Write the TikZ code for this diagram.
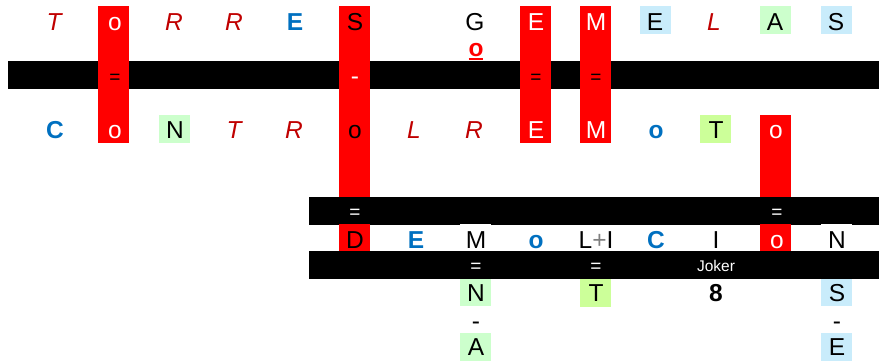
\documentclass[tikz,border=0pt]{standalone}
\usepackage{fontspec}
\setmainfont{Liberation Sans}
\definecolor{dred}{HTML}{C00000}
\definecolor{mblue}{HTML}{0070C0}
\definecolor{lgreen}{HTML}{CCFFCC}
\definecolor{lime}{HTML}{CCFF99}
\definecolor{lblue}{HTML}{C9ECFB}
\newcommand{\band}[6]{\node[bandbox,fill=#6,minimum width=#4pt-#2pt,minimum height=#5pt-#3pt] (#1) at (#2,#3) {};}
\newcommand{\ltr}[5][]{\node[lettr,#1] (#2) at (#3,#4) {#5};}
\newcommand{\bigf}{\fontsize{24.5}{26}\selectfont}
\tikzset{
 bandbox/.style={anchor=north west,inner sep=0pt,outer sep=0pt,draw=none},
 lettr/.style={anchor=base,inner sep=0pt,outer sep=0pt,font=\bigf,text=black},
 ital/.style={text=dred,font=\bigf\itshape},
 bluebold/.style={text=mblue,font=\bigf\bfseries},
 onred/.style={text=white},
 sym/.style={font=\fontsize{19}{21}\selectfont},
}
\begin{document}
\begin{tikzpicture}[x=1pt,y=-1pt]
\useasboundingbox (0,0) rectangle (879,362);
% black bars
\band{barA}{8}{61}{879}{89}{black}
\band{barB}{309}{197}{879}{225}{black}
\band{barC}{309}{251}{879}{279}{black}
% red columns
\band{colO}{98}{6}{129}{143}{red}
\band{colS}{339}{6}{370}{197}{red}
\band{colE}{520}{6}{551}{143}{red}
\band{colM}{580}{6}{611}{143}{red}
\band{colT}{760}{115}{791}{197}{red}
\band{cellD}{339}{224}{370}{251}{red}
\band{cellO}{760}{224}{791}{251}{red}
% tinted cells
\band{cellE}{640}{6}{671}{34}{lblue}
\band{cellA}{760}{6}{791}{34}{lgreen}
\band{cellS}{821}{6}{852}{34}{lblue}
\band{cellN}{159}{115}{190}{143}{lgreen}
\band{cellT}{700}{115}{731}{143}{lime}
\band{cellM}{460}{224}{491}{251}{white}
\band{cellNn}{821}{224}{852}{251}{white}
\band{cellN2}{460}{279}{491}{306}{lgreen}
\band{cellT2}{580}{279}{611}{307}{lime}
\band{cellA2}{460}{333}{491}{361}{lgreen}
\band{cellS2}{821}{279}{852}{306}{lblue}
\band{cellE2}{821}{333}{852}{361}{lblue}
% row 1
\ltr[ital]{a1}{54}{30}{T}
\ltr[onred]{a2}{115}{30}{o}
\ltr[ital]{a3}{174}{30}{R}
\ltr[ital]{a4}{234}{30}{R}
\ltr[bluebold]{a5}{295}{30}{E}
\ltr{a6}{355}{30}{S}
\ltr{a7}{475}{30}{G}
\ltr[onred]{a8}{536}{30}{E}
\ltr[onred]{a9}{596}{30}{M}
\ltr{a10}{655}{30}{E}
\ltr[ital]{a11}{714}{30}{L}
\ltr{a12}{775}{30}{A}
\ltr{a13}{836}{30}{S}
\node[lettr,text=red,font=\bigf\bfseries] (joker1) at (476,56) {o};
\draw[red,line width=1.6pt] (joker1.base west |- 0,59) -- (joker1.base east |- 0,59);
% symbols in first bar
\ltr[sym]{s1}{115}{83}{=}
\ltr[text=white]{s2}{355}{84}{-}
\ltr[sym]{s3}{536}{83}{=}
\ltr[sym]{s4}{596}{83}{=}
% row 2
\ltr[bluebold]{b1}{55}{138}{C}
\ltr[onred]{b2}{115}{138}{o}
\ltr{b3}{175}{138}{N}
\ltr[ital]{b4}{234}{138}{T}
\ltr[ital]{b5}{294}{138}{R}
\ltr{b6}{355}{138}{o}
\ltr[ital]{b7}{414}{138}{L}
\ltr[ital]{b8}{474}{138}{R}
\ltr[onred]{b9}{536}{138}{E}
\ltr[onred]{b10}{596}{138}{M}
\ltr[bluebold]{b11}{656}{138}{o}
\ltr{b12}{716}{138}{T}
\ltr[onred]{b13}{776}{138}{o}
% second bar symbols
\ltr[sym,text=white]{s5}{355}{218}{=}
\ltr[sym,text=white]{s6}{777}{218}{=}
% row 3
\ltr{c1}{355}{248}{D}
\ltr[bluebold]{c2}{416}{248}{E}
\ltr{c3}{476}{248}{M}
\ltr[bluebold]{c4}{536}{248}{o}
\node[lettr] (c5) at (596,248) {L\textcolor{gray}{+}I};
\ltr[bluebold]{c6}{656}{248}{C}
\ltr{c7}{716}{248}{I}
\ltr[onred]{c8}{777}{248}{o}
\ltr{c9}{837}{248}{N}
% third bar
\ltr[sym,text=white]{s7}{476}{272}{=}
\ltr[sym,text=white]{s8}{596}{272}{=}
\node[lettr,text=white,font=\fontsize{15.5}{17}\selectfont] (jk) at (716,271) {Joker};
% row 4
\ltr{d1}{476}{301}{N}
\ltr{d2}{596}{301}{T}
\ltr[font=\bigf\bfseries]{d3}{716}{301}{8}
\ltr{d4}{837}{301}{S}
% row 5
\ltr{e1}{476}{329}{-}
\ltr{e2}{837}{329}{-}
\ltr{f1}{476}{355}{A}
\ltr{f2}{837}{355}{E}
\end{tikzpicture}
\end{document}
